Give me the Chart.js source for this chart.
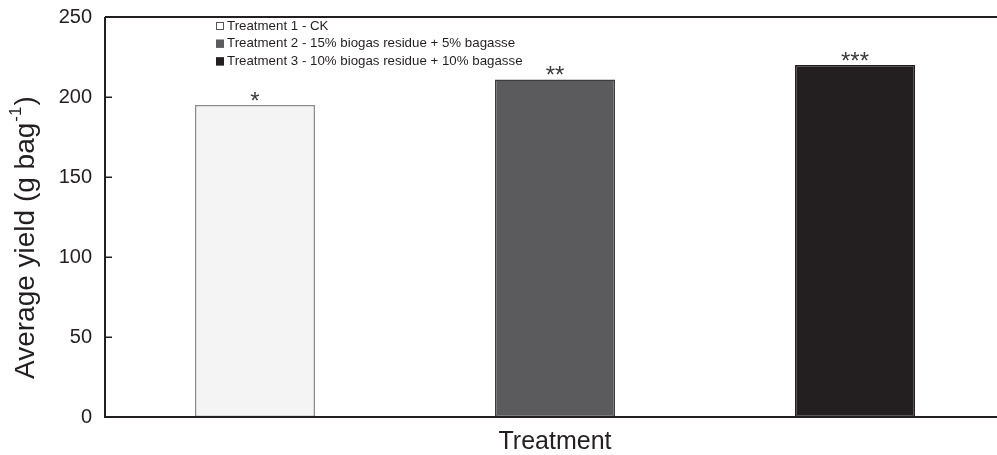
<!DOCTYPE html>
<html>
<head>
<meta charset="utf-8">
<script src="https://cdn.jsdelivr.net/npm/chart.js@4.4.0/dist/chart.umd.min.js"></script>
<style>
  html, body { margin: 0; padding: 0; background: #ffffff; overflow: hidden; }
  #wrap { width: 997px; height: 455px; overflow: hidden; position: relative; }
  canvas { display: block; }
</style>
</head>
<body>
<div id="wrap"><canvas id="c" width="1010" height="455"></canvas></div>
<script>
const categories = [
  'Treatment 1 - CK',
  'Treatment 2 - 15% biogas residue + 5% bagasse',
  'Treatment 3 - 10% biogas residue + 10% bagasse'
];
const yields = [195, 211, 220];
const significance = ['*', '**', '***'];
const yTicks = [0, 50, 100, 150, 200, 250];
const yTitleMain = 'Average yield (g bag';
const yTitleSup = '-1';
const yTitleEnd = ')';
const fillColors = ['#f4f4f4', '#5b5b5d', '#231f20'];
const borderColors = ['#8c8c8c', '#3c3c3e', '#231f20'];
const legendBoxFill = ['#ffffff', '#5b5b5d', '#231f20'];
const ink = '#231f20';
const fontFamily = '"Liberation Sans", Arial, Helvetica, sans-serif';

const decorPlugin = {
  id: 'decor',
  afterDraw(chart) {
    const ctx = chart.ctx;
    const a = chart.chartArea;
    const ys = chart.scales.y;
    ctx.save();
    // frame: top, left, bottom
    ctx.strokeStyle = ink;
    ctx.lineWidth = 2;
    ctx.beginPath();
    ctx.moveTo(a.left, a.top); ctx.lineTo(a.right, a.top);
    ctx.moveTo(a.left, a.top); ctx.lineTo(a.left, a.bottom);
    ctx.moveTo(a.left - 1, a.bottom); ctx.lineTo(a.right, a.bottom);
    ctx.stroke();
    // inward tick marks
    ctx.lineWidth = 1.5;
    ctx.beginPath();
    yTicks.forEach(v => {
      const y = Math.round(ys.getPixelForValue(v)) + 0.25;
      ctx.moveTo(a.left, y); ctx.lineTo(a.left + 7, y);
    });
    ctx.stroke();
    // significance marks
    const meta = chart.getDatasetMeta(0);
    ctx.fillStyle = '#3a3a3a';
    ctx.font = '24px ' + fontFamily;
    ctx.textAlign = 'center';
    ctx.textBaseline = 'alphabetic';
    meta.data.forEach((bar, i) => {
      ctx.fillText(significance[i], bar.x, bar.y + 4);
    });
    // legend
    ctx.font = '13.3px ' + fontFamily;
    ctx.textAlign = 'left';
    ctx.textBaseline = 'middle';
    const lx = 216, ly0 = a.top + 9, step = 17.7, box = 8;
    categories.forEach((label, i) => {
      const cy = ly0 + i * step;
      ctx.fillStyle = legendBoxFill[i];
      ctx.fillRect(lx, cy - box / 2, box, box);
      ctx.strokeStyle = i === 0 ? '#555555' : legendBoxFill[i];
      ctx.lineWidth = 1;
      ctx.strokeRect(lx + 0.5, cy - box / 2 + 0.5, box - 1, box - 1);
      ctx.fillStyle = ink;
      ctx.fillText(label, lx + 11, cy);
    });
    // y-axis title with superscript
    ctx.translate(26, a.bottom - 38);
    ctx.rotate(-Math.PI / 2);
    ctx.fillStyle = ink;
    ctx.textAlign = 'left';
    ctx.textBaseline = 'middle';
    ctx.font = '28px ' + fontFamily;
    ctx.fillText(yTitleMain, 0, 0);
    let w = ctx.measureText(yTitleMain).width;
    ctx.font = '17px ' + fontFamily;
    ctx.fillText(yTitleSup, w + 1, -10);
    w += ctx.measureText(yTitleSup).width + 2;
    ctx.font = '28px ' + fontFamily;
    ctx.fillText(yTitleEnd, w, 0);
    ctx.restore();
  }
};

new Chart(document.getElementById('c'), {
  type: 'bar',
  data: {
    labels: categories,
    datasets: [{
      data: yields,
      backgroundColor: fillColors,
      borderColor: borderColors,
      borderWidth: 1.5,
      borderSkipped: false,
      barPercentage: 0.4,
      categoryPercentage: 1.0
    }]
  },
  options: {
    responsive: false,
    animation: false,
    devicePixelRatio: 1,
    layout: { padding: { top: 17, right: 5, left: 0, bottom: 0 } },
    plugins: { legend: { display: false }, tooltip: { enabled: false } },
    scales: {
      x: {
        grid: { display: false, drawTicks: false },
        border: { display: false },
        ticks: { display: false },
        title: {
          display: true,
          text: 'Treatment',
          color: ink,
          font: { family: fontFamily, size: 25, lineHeight: 1 },
          padding: 0
        },
        afterFit(scale) { scale.height = 38; scale.paddingLeft = 0; scale.paddingRight = 0; }
      },
      y: {
        min: 0,
        max: 250,
        grid: { display: false, drawTicks: false },
        border: { display: false },
        afterBuildTicks(scale) { scale.ticks = yTicks.map(v => ({ value: v })); },
        ticks: {
          color: ink,
          padding: 13,
          font: { family: fontFamily, size: 20 }
        },
        title: { display: false },
        afterFit(scale) { scale.width = 105; scale.paddingTop = 0; scale.paddingBottom = 0; }
      }
    }
  },
  plugins: [decorPlugin]
});
</script>
</body>
</html>
